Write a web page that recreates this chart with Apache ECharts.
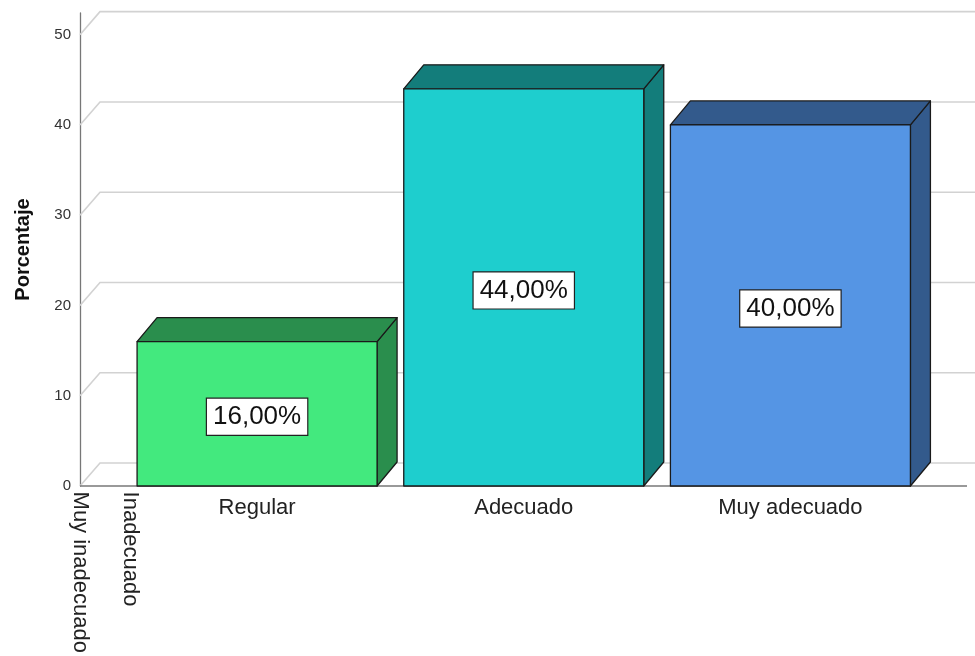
<!DOCTYPE html>
<html>
<head>
<meta charset="utf-8">
<script src="https://cdn.jsdelivr.net/npm/echarts@6/dist/echarts.min.js"></script>
<style>
  html, body { margin: 0; padding: 0; background: #fff; }
  #chart { width: 975px; height: 656px; }
</style>
</head>
<body>
<div id="chart"></div>
<script>
// Valoración de la variable (porcentaje por categoría)
const categories = ['Muy inadecuado', 'Inadecuado', 'Regular', 'Adecuado', 'Muy adecuado'];
const percentages = [0, 0, 16, 44, 40];
const yTicks = [0, 10, 20, 30, 40, 50];

// Palette for the three visible bars (front face, top/side faces)
const frontColors = ['#43e97e', '#1ecece', '#5595e4'];
const sideColors = ['#2a8e4d', '#137d7b', '#335a8c'];

// Empty categories get a narrow slot at the left, the rest share the wide one
const zeroCats = categories.filter((c, i) => percentages[i] === 0);
const zeroVals = percentages.filter(v => v === 0);
const mainCats = categories.filter((c, i) => percentages[i] !== 0);
const mainVals = percentages.filter(v => v !== 0);

const DX = 20, DY = -24;     // bar depth
const WDX = 20, WDY = -23;   // back wall depth
const FONT = "'Liberation Sans', Arial, sans-serif";
const Y_MAX = 52.4;

const fmt = v => v.toFixed(2).replace('.', ',') + '%';

const chart = echarts.init(document.getElementById('chart'), null, { renderer: 'canvas' });

const hiddenY = (g) => ({
  gridIndex: g, type: 'value', min: 0, max: Y_MAX, interval: 10, show: false
});

const option = {
  backgroundColor: '#ffffff',
  animation: false,
  textStyle: { fontFamily: FONT },
  grid: [
    { left: 80, right: 0, top: 13, bottom: 170 },
    { left: 123.75, right: 51.25, top: 13, bottom: 170 },
    { left: 55, width: 100, top: 13, bottom: 170 }
  ],
  xAxis: [
    { gridIndex: 0, type: 'value', min: 0, max: 1, show: false },
    {
      gridIndex: 1, type: 'category', data: mainCats,
      axisLine: { show: false }, axisTick: { show: false },
      axisLabel: { fontSize: 22, color: '#222', margin: 11, fontFamily: FONT }
    },
    {
      gridIndex: 2, type: 'category', data: zeroCats,
      axisLine: { show: false }, axisTick: { show: false },
      axisLabel: { fontSize: 22, color: '#222', margin: 11, rotate: -90, fontFamily: FONT }
    }
  ],
  yAxis: [
    {
      gridIndex: 0, type: 'value', min: 0, max: Y_MAX, interval: 10,
      name: 'Porcentaje', nameLocation: 'middle', nameGap: 47, nameRotate: 90,
      nameTextStyle: { fontSize: 20, fontWeight: 'bold', color: '#111', fontFamily: FONT },
      axisLine: { show: true, lineStyle: { color: '#777', width: 1.3 } },
      axisTick: { show: false },
      axisLabel: { fontSize: 15, color: '#333', margin: 9, showMaxLabel: false, fontFamily: FONT },
      splitLine: { show: false }
    },
    hiddenY(1),
    hiddenY(2)
  ],
  series: [
    {
      // back wall: grid levels folded into depth, plus the front floor edge
      type: 'custom', xAxisIndex: 0, yAxisIndex: 0, z: 1,
      data: yTicks.map(v => [0, v]),
      renderItem: (params, api) => {
        const p = api.coord([0, api.value(1)]);
        const W = api.getWidth();
        const children = [{
          type: 'polyline',
          shape: { points: [[p[0], p[1]], [p[0] + WDX, p[1] + WDY], [W, p[1] + WDY]] },
          style: { stroke: '#d2d2d2', lineWidth: 1.6, fill: null }
        }];
        if (api.value(1) === 0) {
          children.push({
            type: 'line',
            shape: { x1: p[0], y1: p[1], x2: W - 8, y2: p[1] },
            style: { stroke: '#777', lineWidth: 1.3 }
          });
        }
        return { type: 'group', children };
      }
    },
    {
      type: 'custom', xAxisIndex: 1, yAxisIndex: 1, z: 3,
      data: mainVals.map((v, i) => [i, v]),
      renderItem: (params, api) => {
        const i = api.value(0), v = api.value(1);
        const base = api.coord([i, 0]);
        const top = api.coord([i, v]);
        const bw = api.size([1, 0])[0] * 0.9;
        const x0 = base[0] - bw / 2, x1 = base[0] + bw / 2;
        const yT = top[1], yB = base[1];
        const stroke = { stroke: '#1a1a1a', lineWidth: 1.3, lineJoin: 'round' };
        return {
          type: 'group',
          children: [
            {
              type: 'polygon',
              shape: { points: [[x1, yT], [x1 + DX, yT + DY], [x1 + DX, yB + DY], [x1, yB]] },
              style: Object.assign({ fill: sideColors[i] }, stroke)
            },
            {
              type: 'polygon',
              shape: { points: [[x0, yT], [x0 + DX, yT + DY], [x1 + DX, yT + DY], [x1, yT]] },
              style: Object.assign({ fill: sideColors[i] }, stroke)
            },
            {
              type: 'rect',
              shape: { x: x0, y: yT, width: bw, height: yB - yT },
              style: Object.assign({ fill: frontColors[i] }, stroke)
            },
            {
              type: 'text',
              style: {
                x: base[0], y: (yT + yB) / 2 + 3,
                text: fmt(v),
                align: 'center', verticalAlign: 'middle',
                fontSize: 26, fontFamily: FONT, fill: '#111',
                backgroundColor: '#ffffff', borderColor: '#222', borderWidth: 1.2,
                padding: [6, 6, 4, 6]
              }
            }
          ]
        };
      }
    },
    {
      // empty categories: zero-height bars
      type: 'custom', xAxisIndex: 2, yAxisIndex: 2, z: 3,
      data: zeroVals.map((v, i) => [i, v]),
      renderItem: (params, api) => {
        const base = api.coord([api.value(0), 0]);
        const top = api.coord([api.value(0), api.value(1)]);
        return {
          type: 'rect',
          shape: { x: base[0], y: top[1], width: 0, height: base[1] - top[1] },
          style: { fill: 'none' }
        };
      }
    }
  ]
};

chart.setOption(option);
</script>
</body>
</html>
